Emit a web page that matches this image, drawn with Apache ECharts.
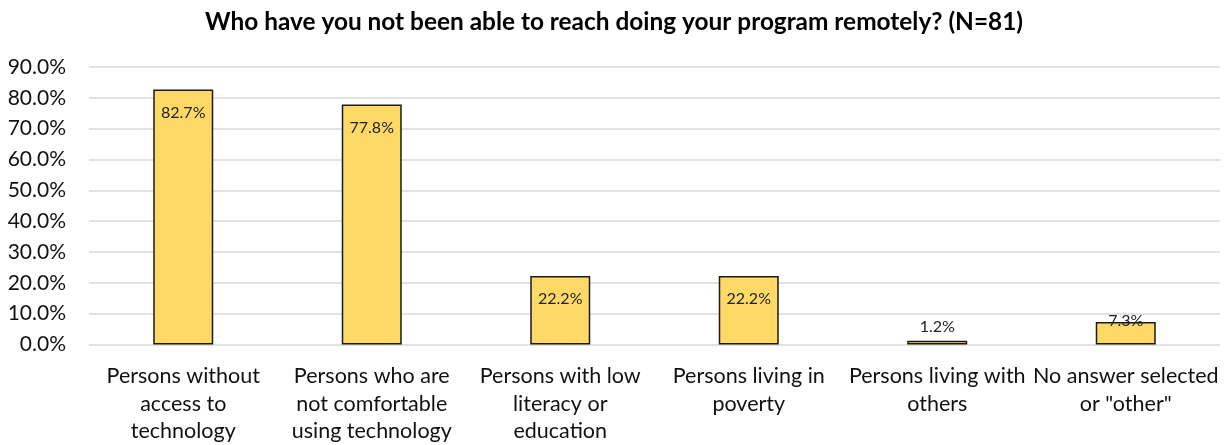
<!DOCTYPE html>
<html><head><meta charset="utf-8">
<script src="https://cdn.jsdelivr.net/npm/echarts@6/dist/echarts.min.js"></script>
<style>html,body{margin:0;padding:0;background:#fff}#c{width:1228px;height:445px}</style>
</head><body><div id="c"></div>
<script>
const titleText = 'Who have you not been able to reach doing your program remotely? (N=81)';
const categories = [
  'Persons without\naccess to\ntechnology',
  'Persons who are\nnot comfortable\nusing technology',
  'Persons with low\nliteracy or\neducation',
  'Persons living in\npoverty',
  'Persons living with\nothers',
  'No answer selected\nor "other"'
];
const values = [82.7, 77.8, 22.2, 22.2, 1.2, 7.3];
const labelPositions = ['insideTop', 'insideTop', 'insideTop', 'insideTop', 'top', 'insideTop'];

const FONT = 'Lato, "Open Sans", sans-serif';
const chart = echarts.init(document.getElementById('c'));
chart.setOption({
  animation: false,
  title: {
    text: titleText, left: 'center', top: 5,
    textStyle: { fontFamily: FONT, fontSize: 24.4, fontWeight: 'bold', color: '#000' }
  },
  grid: { left: 89, right: 8, top: 67, bottom: 100 },
  xAxis: {
    type: 'category', data: categories,
    axisLine: { show: false }, axisTick: { show: false },
    axisLabel: { fontFamily: FONT, fontSize: 21.5, color: '#111', lineHeight: 27.5, margin: 18, interval: 0 }
  },
  yAxis: {
    type: 'value', min: 0, max: 90, interval: 10,
    axisLine: { show: false }, axisTick: { show: false },
    axisLabel: { fontFamily: FONT, fontSize: 21, color: '#111', margin: 23,
      formatter: v => v.toFixed(1) + '%' },
    splitLine: { lineStyle: { color: '#d9d9d9', width: 1.5 } }
  },
  series: [{
    type: 'bar', barWidth: 60,
    data: values.map((v, i) => ({
      value: v,
      label: {
        position: labelPositions[i],
        distance: i === 5 ? -9 : (labelPositions[i] === 'top' ? 6 : 15)
      }
    })),
    itemStyle: { color: '#FFD966', borderColor: '#1a1a1a', borderWidth: 1.5 },
    label: { show: true, fontFamily: FONT, fontSize: 16, color: '#222',
      formatter: p => p.value.toFixed(1) + '%' }
  }]
});
</script></body></html>
